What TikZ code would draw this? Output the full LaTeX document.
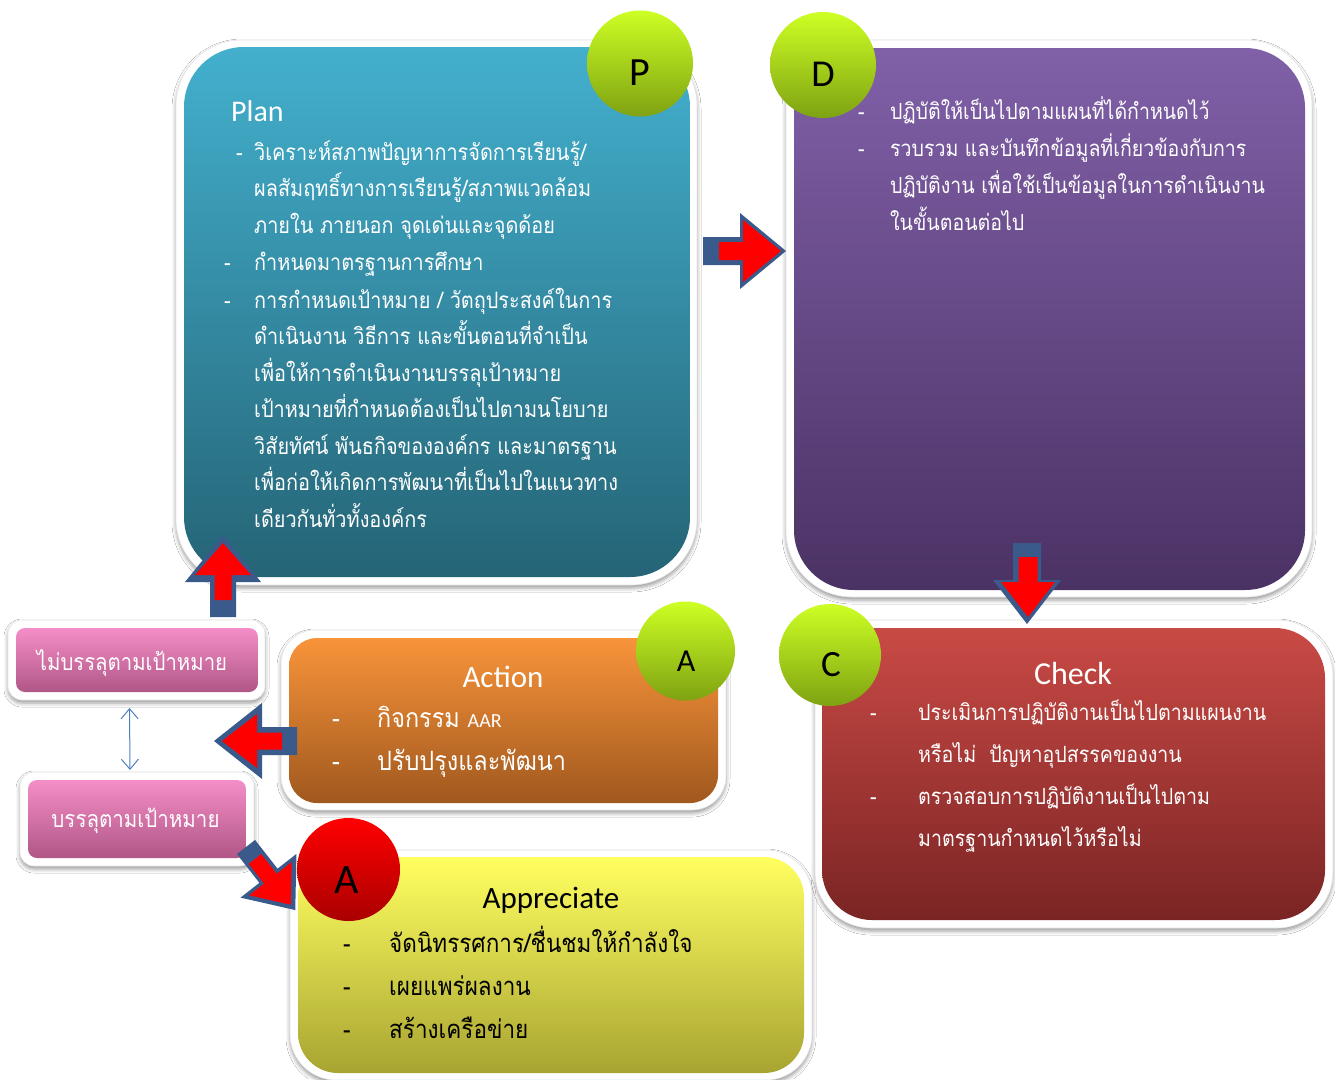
\documentclass[tikz,border=0pt]{standalone}
\usepackage{fontspec}
\setmainfont{Carlito}
\newfontfamily\thai[Script=Thai,FakeStretch=0.88]{Loma}
\newfontfamily\latf{Carlito}
\usetikzlibrary{shadows.blur,calc,arrows.meta}
\definecolor{planT}{RGB}{67,176,206}
\definecolor{planB}{RGB}{37,100,118}
\definecolor{doT}{RGB}{128,96,168}
\definecolor{doB}{RGB}{75,50,100}
\definecolor{chkT}{RGB}{201,74,69}
\definecolor{chkB}{RGB}{122,36,36}
\definecolor{actT}{RGB}{248,148,58}
\definecolor{actB}{RGB}{160,88,30}
\definecolor{aprT}{RGB}{255,255,96}
\definecolor{aprB}{RGB}{168,164,50}
\definecolor{pinkT}{RGB}{245,142,200}
\definecolor{pinkB}{RGB}{176,86,134}
\definecolor{grnT}{RGB}{206,255,36}
\definecolor{grnB}{RGB}{126,162,18}
\definecolor{redT}{RGB}{255,0,0}
\definecolor{redB}{RGB}{170,0,0}
\definecolor{arrBlue}{RGB}{58,90,140}
\definecolor{dblBlue}{RGB}{79,129,189}
% #1,#2 tail (px), #3 angle, #4 length, #5 half shaft, #6 half head, #7 head length, #8 colour
\newcommand\blockarrow[8]{%
  \fill[#8,shift={(#1,#2)},rotate=#3] (0,-#5) -- ({#4-#7},-#5) -- ({#4-#7},-#6) -- (#4,0)
    -- ({#4-#7},#6) -- ({#4-#7},#5) -- (0,#5) -- cycle;}
\begin{document}
\begin{tikzpicture}[x=1pt,y=-1pt,
  frame/.style={fill=white,draw=black!10,line width=0.6pt,inner sep=0pt,outer sep=0pt,
    blur shadow={shadow xshift=0pt,shadow yshift=-3pt,shadow blur radius=4pt,shadow opacity=40}},
  panel/.style={inner sep=0pt,outer sep=0pt},
  badge/.style={circle,inner sep=0pt,outer sep=0pt,minimum size=#1},
  letter/.style={inner sep=0pt,text=black,font=\latf\fontsize{#1}{#1}\selectfont},
  title/.style={inner sep=0pt,font=\latf\fontsize{#1}{#1}\selectfont},
  thaitext/.style={anchor=north west,align=left,inner sep=0pt,text=white}]
\fill[white] (0,0) rectangle (1335,1079);
\useasboundingbox (0,0) rectangle (1335,1079);

% ---------- panels ----------
\node[frame,minimum width=521pt,minimum height=545pt,rounded corners=66pt] (planframe) at (436.5,312.5) {};
\node[panel,minimum width=506pt,minimum height=530pt,rounded corners=60pt,top color=planT,bottom color=planB] (plan) at (437,312) {};

\node[frame,minimum width=526pt,minimum height=557pt,rounded corners=66pt] (doframe) at (1049,318.5) {};
\node[panel,minimum width=511pt,minimum height=542pt,rounded corners=60pt,top color=doT,bottom color=doB] (do) at (1049.5,319) {};

\node[frame,minimum width=518pt,minimum height=308pt,rounded corners=56pt] (chkframe) at (1074,774) {};
\node[panel,minimum width=503pt,minimum height=292pt,rounded corners=50pt,top color=chkT,bottom color=chkB] (chk) at (1073.5,774) {};

\node[frame,minimum width=445pt,minimum height=180pt,rounded corners=34pt] (actframe) at (503.5,720) {};
\node[panel,minimum width=429pt,minimum height=165pt,rounded corners=28pt,top color=actT,bottom color=actB] (act) at (503.5,720.5) {};

\node[frame,minimum width=522pt,minimum height=230pt,rounded corners=46pt] (aprframe) at (551,965) {};
\node[panel,minimum width=506pt,minimum height=216pt,rounded corners=40pt,top color=aprT,bottom color=aprB] (apr) at (551,965) {};

\node[frame,minimum width=257pt,minimum height=80pt,rounded corners=14pt] (p1frame) at (136.5,660) {};
\node[panel,minimum width=242pt,minimum height=64pt,rounded corners=9pt,top color=pinkT,bottom color=pinkB] (p1) at (137,660) {};
\node[frame,minimum width=234pt,minimum height=94pt,rounded corners=14pt] (p2frame) at (137,819) {};
\node[panel,minimum width=218pt,minimum height=78pt,rounded corners=9pt,top color=pinkT,bottom color=pinkB] (p2) at (137,819) {};

% ---------- block arrows ----------
\blockarrow{703}{251}{0}{83}{14}{38}{46}{arrBlue}
\blockarrow{719}{251}{0}{62}{9}{31}{38}{red}
\blockarrow{1027}{543}{-90}{81}{14}{34}{44}{arrBlue}
\blockarrow{1028}{557}{-90}{60}{9.5}{27}{35}{red}
\blockarrow{223}{617}{90}{82}{13}{38}{47}{arrBlue}
\blockarrow{223}{600}{90}{57}{8.5}{28}{32}{red}
\blockarrow{297}{741}{180}{83}{14}{38}{48}{arrBlue}
\blockarrow{282}{741}{180}{60}{8.5}{27}{35}{red}
\blockarrow{246}{847}{-52}{80}{11.5}{35.5}{43.5}{arrBlue}
\blockarrow{255}{859}{-52}{58}{8}{27}{33}{red}

\draw[dblBlue,line width=1pt,{Straight Barb[length=10pt,width=17pt]}-{Straight Barb[length=10pt,width=17pt]}]
  ($(p1frame.south)+(-7,8)$) -- ($(p2frame.north)+(-7,-2)$);

% ---------- badges ----------
\node[badge=106pt,top color=grnT,bottom color=grnB] (pc) at (640,63.5) {};
\node[letter=40] (pl) at (640,73) {P};
\node[badge=106pt,top color=grnT,bottom color=grnB] (dc) at (823,65) {};
\node[letter=38] (dl) at (823,74) {D};
\node[badge=99pt,top color=grnT,bottom color=grnB] (ac) at (685.5,651) {};
\node[letter=32] (al) at (686,661) {A};
\node[badge=102pt,top color=grnT,bottom color=grnB] (cc) at (830,655) {};
\node[letter=37] (cl) at (831,665) {C};
\node[badge=103pt,top color=redT,bottom color=redB] (rc) at (348.5,869.5) {};
\node[letter=42] (rl) at (347,880) {A};

% ---------- titles ----------
\node[title=30,anchor=base west,text=white] (plantitle) at (231,121) {Plan};
\node[title=32,anchor=base,text=white] (chktitle) at (1073,684.5) {Check};
\node[title=31,anchor=base,text=white] (acttitle) at (503,687) {Action};
\node[title=31,anchor=base,text=black] (aprtitle) at (551,908) {Appreciate};

% ---------- Plan text ----------
\node[thaitext,font=\thai\fontsize{22.6}{36.5}\selectfont] (plan1) at (224,134.45)
 {\strut\hspace*{12pt}\makebox[18pt][l]{-}วิเคราะห์สภาพปัญหาการจัดการเรียนรู้/\\
  \strut\hspace*{30pt}ผลสัมฤทธิ์ทางการเรียนรู้/สภาพแวดล้อม\\
  \strut\hspace*{30pt}ภายใน ภายนอก จุดเด่นและจุดด้อย};
\node[thaitext,font=\thai\fontsize{22.6}{36.5}\selectfont] (plan2) at (224,244.45)
 {\strut\makebox[30pt][l]{-}กำหนดมาตรฐานการศึกษา};
\node[thaitext,font=\thai\fontsize{22.6}{36.5}\selectfont] (plan3) at (224,282.45)
 {\strut\makebox[30pt][l]{-}การกำหนดเป้าหมาย / วัตถุประสงค์ในการ\\
  \strut\hspace*{30pt}ดำเนินงาน วิธีการ และขั้นตอนที่จำเป็น\\
  \strut\hspace*{30pt}เพื่อให้การดำเนินงานบรรลุเป้าหมาย\\
  \strut\hspace*{30pt}เป้าหมายที่กำหนดต้องเป็นไปตามนโยบาย\\
  \strut\hspace*{30pt}วิสัยทัศน์ พันธกิจขององค์กร และมาตรฐาน\\
  \strut\hspace*{30pt}เพื่อก่อให้เกิดการพัฒนาที่เป็นไปในแนวทาง\\
  \strut\hspace*{30pt}เดียวกันทั่วทั้งองค์กร};

% ---------- Do text ----------
\node[thaitext,font=\thai\fontsize{22.2}{37}\selectfont] (dotext) at (858,93.1)
 {\strut\makebox[32pt][l]{-}ปฏิบัติให้เป็นไปตามแผนที่ได้กำหนดไว้\\
  \strut\makebox[32pt][l]{-}รวบรวม และบันทึกข้อมูลที่เกี่ยวข้องกับการ\\
  \strut\hspace*{32pt}ปฏิบัติงาน เพื่อใช้เป็นข้อมูลในการดำเนินงาน\\
  \strut\hspace*{32pt}ในขั้นตอนต่อไป};

% ---------- Check text ----------
\node[thaitext,font=\thai\fontsize{22.3}{42}\selectfont] (chktext) at (870,690.6)
 {\strut\makebox[48pt][l]{-}ประเมินการปฏิบัติงานเป็นไปตามแผนงาน\\
  \strut\hspace*{48pt}หรือไม่~~ปัญหาอุปสรรคของงาน\\
  \strut\makebox[48pt][l]{-}ตรวจสอบการปฏิบัติงานเป็นไปตาม\\
  \strut\hspace*{48pt}มาตรฐานกำหนดไว้หรือไม่};

% ---------- Action text ----------
\node[thaitext,font=\thai\fontsize{26.6}{43}\selectfont] (acttext) at (332,696.9)
 {\strut\makebox[45pt][l]{-}กิจกรรม {\latf\fontsize{20}{24}\selectfont AAR}\\
  \strut\makebox[45pt][l]{-}ปรับปรุงและพัฒนา};

% ---------- Appreciate text ----------
\node[thaitext,text=black,font=\thai\fontsize{25.6}{43}\selectfont] (aprtext) at (343,921.9)
 {\strut\makebox[46pt][l]{-}จัดนิทรรศการ/ชื่นชมให้กำลังใจ\\
  \strut\makebox[46pt][l]{-}เผยแพร่ผลงาน\\
  \strut\makebox[46pt][l]{-}สร้างเครือข่าย};

% ---------- pink labels ----------
\node[anchor=base,inner sep=0pt,text=white,font=\thai\fontsize{23.1}{26}\selectfont] (p1text) at (132,670) {ไม่บรรลุตามเป้าหมาย};
\node[anchor=base,inner sep=0pt,text=white,font=\thai\fontsize{23.3}{26}\selectfont] (p2text) at (135.5,827) {บรรลุตามเป้าหมาย};
\end{tikzpicture}
\end{document}
